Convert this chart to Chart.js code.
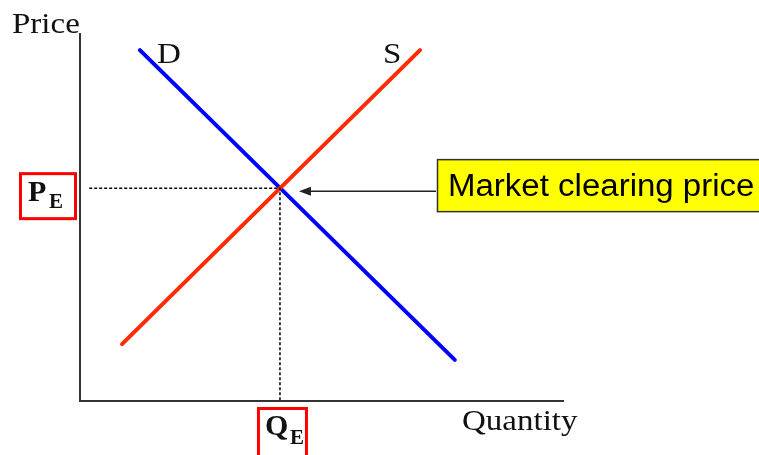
<!DOCTYPE html>
<html>
<head>
<meta charset="utf-8">
<script src="https://cdn.jsdelivr.net/npm/chart.js@4"></script>
<style>
html,body{margin:0;padding:0;background:#fff;}
#wrap{width:759px;height:455px;position:relative;}
</style>
</head>
<body>
<div id="wrap"><canvas id="c" width="759" height="455"></canvas></div>
<script>
// Conceptual supply & demand chart (arbitrary units 0..100)
const demandQ = [12.4, 77.6];
const demandP = [95.6, 11.2];
const supplyQ = [8.7, 70.4];
const supplyP = [15.5, 95.6];
const equilibriumQ = 41.4;
const equilibriumP = 58.0;
const guideStartQ = 1.9;
const axisTitles = ["Price", "Quantity"];
const curveLabels = ["D", "S"];
const calloutText = "Market clearing price";

const toPts = (xs, ys) => xs.map((x, i) => ({x: x, y: ys[i]}));

function stretchText(ctx, text, x, y, sx) {
  ctx.save();
  ctx.translate(x, y);
  ctx.scale(sx, 1);
  ctx.fillText(text, 0, 0);
  ctx.restore();
}

const annot = {
  id: 'annot',
  afterDraw(chart) {
    const ctx = chart.ctx;
    const xs = chart.scales.x, ys = chart.scales.y;
    const ex = xs.getPixelForValue(equilibriumQ);
    const ey = ys.getPixelForValue(equilibriumP);
    ctx.save();
    ctx.fillStyle = '#111';
    ctx.textBaseline = 'alphabetic';
    ctx.textAlign = 'left';
    ctx.font = '30px "Liberation Serif", "Times New Roman", serif';
    stretchText(ctx, axisTitles[0], 12, 33, 1.1);
    stretchText(ctx, axisTitles[1], 462, 430, 1.1);
    stretchText(ctx, curveLabels[0], 157, 63, 1.1);
    stretchText(ctx, curveLabels[1], 383, 63, 1.1);

    // P_E box
    ctx.strokeStyle = '#ff0000';
    ctx.lineWidth = 3;
    ctx.strokeRect(20.5, ey - 14.5, 55, 45);
    ctx.font = 'bold 30px "Liberation Serif", serif';
    ctx.fillStyle = '#111';
    ctx.fillText('P', 28, ey + 13);
    ctx.font = 'bold 21px "Liberation Serif", serif';
    ctx.fillText('E', 49, ey + 20);

    // Q_E box
    ctx.strokeRect(ex - 21.5, 408.5, 48, 50);
    ctx.font = 'bold 30px "Liberation Serif", serif';
    ctx.fillText('Q', ex - 15, 435);
    ctx.font = 'bold 21px "Liberation Serif", serif';
    ctx.fillText('E', ex + 10, 444);

    // Callout box
    ctx.fillStyle = '#ffff00';
    ctx.fillRect(437, ey - 29, 330, 52);
    ctx.strokeStyle = '#333';
    ctx.lineWidth = 1.5;
    ctx.strokeRect(437.5, ey - 28.5, 330, 52);
    ctx.fillStyle = '#000';
    ctx.font = '31px "Liberation Sans", Arial, sans-serif';
    stretchText(ctx, calloutText, 448, ey + 8, 1.065);

    // Arrow
    ctx.strokeStyle = '#222';
    ctx.lineWidth = 1.5;
    ctx.beginPath();
    ctx.moveTo(436, ey + 3);
    ctx.lineTo(306, ey + 3);
    ctx.stroke();
    ctx.fillStyle = '#222';
    ctx.beginPath();
    ctx.moveTo(ex + 19, ey + 3);
    ctx.lineTo(ex + 31, ey - 1.5);
    ctx.lineTo(ex + 31, ey + 7.5);
    ctx.closePath();
    ctx.fill();
    ctx.restore();
  }
};

new Chart(document.getElementById('c'), {
  type: 'scatter',
  data: {
    datasets: [
      {
        label: 'Guides',
        data: [{x: guideStartQ, y: equilibriumP}, {x: equilibriumQ, y: equilibriumP}, {x: equilibriumQ, y: 0}],
        showLine: true, borderColor: '#000', borderWidth: 1.5, borderDash: [3, 2],
        pointRadius: 0, fill: false, tension: 0
      },
      {
        label: 'Supply',
        data: toPts(supplyQ, supplyP),
        showLine: true, borderColor: '#ff2a00', borderWidth: 4, borderCapStyle: 'round',
        pointRadius: 0, fill: false
      },
      {
        label: 'Demand',
        data: toPts(demandQ, demandP),
        showLine: true, borderColor: '#0000ff', borderWidth: 4, borderCapStyle: 'round',
        pointRadius: 0, fill: false
      }
    ]
  },
  options: {
    responsive: false,
    animation: false,
    devicePixelRatio: 1,
    layout: {padding: {left: 80, right: 196, top: 34, bottom: 54}},
    plugins: {legend: {display: false}, tooltip: {enabled: false}},
    scales: {
      x: {
        type: 'linear', min: 0, max: 100,
        grid: {display: false, drawTicks: false},
        ticks: {display: false},
        border: {display: true, color: '#333', width: 2}
      },
      y: {
        type: 'linear', min: 0, max: 100,
        grid: {display: false, drawTicks: false},
        ticks: {display: false},
        border: {display: true, color: '#333', width: 2}
      }
    }
  },
  plugins: [annot]
});
</script>
</body>
</html>
